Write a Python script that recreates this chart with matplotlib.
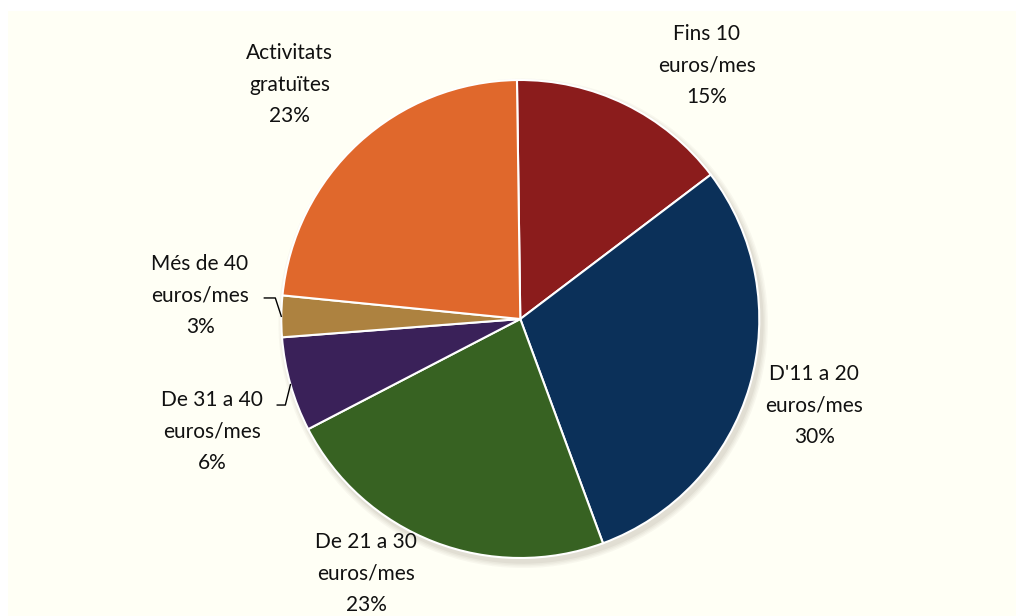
import matplotlib.pyplot as plt
import numpy as np
from matplotlib.patches import Circle, Rectangle

plt.rcParams["font.family"] = ["Lato", "DejaVu Sans"]

labels = [
    "Fins 10\neuros/mes",
    "D'11 a 20\neuros/mes",
    "De 21 a 30\neuros/mes",
    "De 31 a 40\neuros/mes",
    "Més de 40\neuros/mes",
    "Activitats\ngratuïtes",
]
values = [14.9, 29.7, 23.0, 6.4, 2.8, 23.2]
colors = ["#8B1C1C", "#0B3059", "#376222", "#3A2159", "#AD8240", "#E0682C"]

# posicions de les etiquetes (unitats del radi)
label_pos = [(0.78, 1.06), (1.23, -0.36), (-0.645, -1.065), (-1.29, -0.47), (-1.34, 0.10), (-0.965, 0.98)]

fig = plt.figure(figsize=(10.16, 6.16), dpi=100)
fig.patches.append(Rectangle((8 / 1016, 0), 1, (616 - 11) / 616, transform=fig.transFigure,
                             facecolor="#FFFFF5", edgecolor="none", zorder=-5))
ax = fig.add_axes([0, 0, 1, 1])
ax.set_facecolor("none")

# ombra
for i, a in enumerate([0.05, 0.05, 0.06, 0.08]):
    r = 1.0 + 0.012 * (4 - i) / 2
    ax.add_patch(Circle((0.012, -0.018), r, facecolor="#7a7060", alpha=a, edgecolor="none", zorder=1))

wedges, _ = ax.pie(values, colors=colors, startangle=90.8, counterclock=False, radius=1.0,
                   wedgeprops=dict(edgecolor="white", linewidth=1.5))
for w in wedges:
    w.set_zorder(2)

for lab, v, (lx, ly) in zip(labels, values, label_pos):
    ax.text(lx, ly, f"{lab}\n{v:.0f}%", ha="center", va="center", fontsize=15,
            color="#111111", linespacing=1.72, zorder=3)

# línies guia per a les porcions petites
for idx, knee, start in [(4, (-1.025, 0.088), -1.071), (3, (-0.983, -0.36), -1.017)]:
    w = wedges[idx]
    mid = np.deg2rad((w.theta1 + w.theta2) / 2)
    ex, ey = np.cos(mid), np.sin(mid)
    ax.plot([start, knee[0], ex], [knee[1], knee[1], ey],
            color="black", lw=1.0, zorder=3)

cx, cy, rpx = 520.3, 319, 239
ax.set_xlim(-cx / rpx, (1016 - cx) / rpx)
ax.set_ylim(-(616 - cy) / rpx, cy / rpx)
ax.set_aspect("equal")
ax.axis("off")

fig.savefig("out.png", dpi=100)
